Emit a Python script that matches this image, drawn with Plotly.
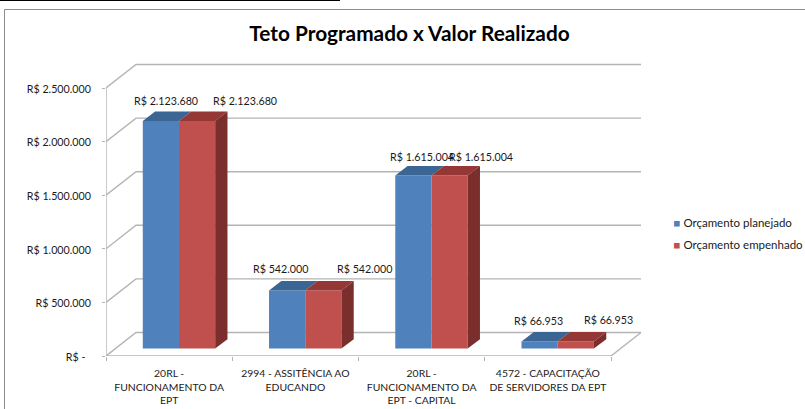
import plotly.graph_objects as go

categories = ["20RL -<br>FUNCIONAMENTO DA<br>EPT", "2994 - ASSITÊNCIA AO<br>EDUCANDO",
              "20RL -<br>FUNCIONAMENTO DA<br>EPT - CAPITAL", "4572 - CAPACITAÇÃO<br>DE SERVIDORES DA EPT"]
planejado = [2123680, 542000, 1615004, 66953]
empenhado = [2123680, 542000, 1615004, 66953]
y_ticks = [0, 500000, 1000000, 1500000, 2000000, 2500000]
y_tick_labels = ["R$ -\u00a0\u00a0", "R$ 500.000", "R$ 1.000.000", "R$ 1.500.000", "R$ 2.000.000", "R$ 2.500.000"]

FONT = "Lato"
W, H = 805, 409
L, R_M, T, B = 106, 155, 50, 53
PX_X = 126.25
PX_Y = 53.6 / 500000
X_MAX = (W - L - R_M) / PX_X
Y_MAX = (H - T - B) / PX_Y

# depth of the pseudo-3D box, in axis units
WALL_DX, WALL_DY = 30 / PX_X, 23.5 / PX_Y
BAR_DX, BAR_DY = 12.3 / PX_X, 9.4 / PX_Y
BASE_DY = 7.4 / PX_Y
GROUP_OFFSET = 0.578
BAR_W = 36.2 / PX_X

GRID = "#b4b4b4"
INK = "#1a1a1a"
series = [
    dict(name="Orçamento planejado", vals=planejado, front="#4F81BD", top="#3B6593", side=None, pos=-0.5,
         lab_dx=[4.7, -7, 8.5, -1.2], lab_dy=[20.6, 22, 19, 21]),
    dict(name="Orçamento empenhado", vals=empenhado, front="#C0504D", top="#953735", side="#7A2F2D", pos=0.5,
         lab_dx=[48, 41.2, 31.7, 33], lab_dy=[20.6, 22, 19, 21.5]),
]

fig = go.Figure()

# walls, floor and gridlines live on the base axes; bars on an overlay so they cover the walls
wx, wy = [], []
for v in y_ticks:
    wx += [0, WALL_DX, 4 + WALL_DX, None]
    wy += [v, v + WALL_DY, v + WALL_DY, None]
wx += [0, 0, None, 0, 4, 4 + WALL_DX]
wy += [0, y_ticks[-1], None, 0, 0, WALL_DY]
fig.add_trace(go.Scatter(x=wx, y=wy, mode="lines", line=dict(color=GRID, width=1.4),
                         hoverinfo="skip", showlegend=False, cliponaxis=False))

annotations = []
for s in series:
    # legend entry: the swatch is part of the label so it sits tight against the text
    fig.add_trace(go.Scatter(
        x=[None], y=[None], mode="markers", xaxis="x2", yaxis="y2",
        marker=dict(size=1, symbol="square", color="rgba(255,255,255,0)", line=dict(width=0)),
        name=f'<span style="color:{s["front"]}">■</span> {s["name"]}',
        legendgroup=s["name"], showlegend=True))
    for i, v in enumerate(s["vals"]):
        cx = i + GROUP_OFFSET + s["pos"] * BAR_W
        x0, x1 = cx - BAR_W / 2, cx + BAR_W / 2
        top_y = v + BASE_DY
        fig.add_trace(go.Scatter(
            x=[x0, x0 + BAR_DX, x1 + BAR_DX, x1, x0],
            y=[top_y, top_y + BAR_DY, top_y + BAR_DY, top_y, top_y],
            xaxis="x2", yaxis="y2",
            mode="lines", fill="toself", fillcolor=s["top"], line=dict(width=0),
            hoverinfo="skip", showlegend=False, legendgroup=s["name"]))
        if s["side"]:
            fig.add_trace(go.Scatter(
                x=[x1, x1 + BAR_DX, x1 + BAR_DX, x1, x1],
                y=[BASE_DY, BASE_DY + BAR_DY, top_y + BAR_DY, top_y, BASE_DY],
                xaxis="x2", yaxis="y2",
                mode="lines", fill="toself", fillcolor=s["side"], line=dict(width=0),
                hoverinfo="skip", showlegend=False, legendgroup=s["name"]))
        fig.add_trace(go.Bar(
            x=[cx], y=[v], base=[BASE_DY], width=[BAR_W], marker=dict(color=s["front"], line=dict(width=0)),
            xaxis="x2", yaxis="y2",
            name=s["name"], showlegend=False, legendgroup=s["name"],
            hovertemplate=f'{s["name"]}: R$ {v:,}'.replace(",", ".") + "<extra></extra>"))
        annotations.append(dict(
            x=cx, y=top_y, xref="x2", yref="y2", text=f"R$ {v:,}".replace(",", "."), showarrow=False,
            xshift=s["lab_dx"][i], yshift=s["lab_dy"][i], font=dict(family=FONT, size=10.7, color=INK),
            xanchor="center", yanchor="middle"))

# frame around the pasted chart
def px(x):
    return (x - L) / (W - L - R_M)
def py(y):
    return 1 - (y - T) / (H - T - B)
shapes = [
    dict(type="line", xref="paper", yref="paper", x0=px(4.5), x1=px(805), y0=py(9.5), y1=py(9.5),
         line=dict(color="#8c8c8c", width=1)),
    dict(type="line", xref="paper", yref="paper", x0=px(4.5), x1=px(4.5), y0=py(9.5), y1=py(409),
         line=dict(color="#8c8c8c", width=1)),
    dict(type="line", xref="paper", yref="paper", x0=px(0), x1=px(340), y0=py(0.5), y1=py(0.5),
         line=dict(color="#000000", width=1)),
]

fig.update_layout(
    width=W, height=H, autosize=False, plot_bgcolor="white", paper_bgcolor="white",
    margin=dict(l=L, r=R_M, t=T, b=B, autoexpand=False), barmode="overlay",
    font=dict(family=FONT, size=11, color=INK),
    title=dict(text="<b>Teto Programado x Valor Realizado</b>", x=409.5 / W, xref="container", xanchor="center",
               y=1 - 34 / H, yref="container", yanchor="middle", font=dict(family=FONT, size=20.8, color="#000000")),
    xaxis=dict(range=[0, X_MAX], tickmode="array", tickvals=[i + 0.5 for i in range(4)], ticktext=categories,
               showgrid=False, zeroline=False, showline=False, ticks="", ticklabelstandoff=10,
               tickfont=dict(family=FONT, size=10.4, color=INK), tickangle=0,
               minor=dict(tickmode="array", tickvals=[0, 1, 2, 3, 4], ticks="outside", ticklen=4,
                          tickcolor=GRID, tickwidth=1.2, showgrid=False)),
    yaxis=dict(range=[0, Y_MAX], tickmode="array", tickvals=y_ticks, ticktext=y_tick_labels, showgrid=False,
               zeroline=False, showline=False, ticks="outside", ticklen=3, tickcolor=GRID, tickwidth=1.2,
               ticklabelstandoff=9, ticklabelshift=1, tickfont=dict(family=FONT, size=10.7, color=INK)),
    xaxis2=dict(range=[0, X_MAX], overlaying="x", visible=False),
    yaxis2=dict(range=[0, Y_MAX], overlaying="y", visible=False),
    legend=dict(x=px(633.5), y=py(207.5), xanchor="left", yanchor="top", bgcolor="rgba(0,0,0,0)",
                font=dict(family=FONT, size=11.5, color=INK), tracegroupgap=3, itemclick=False, itemdoubleclick=False),
    annotations=annotations, shapes=shapes,
)
fig.write_html("out.html", config={"displayModeBar": False},
               post_script="document.body.style.margin='0';")
